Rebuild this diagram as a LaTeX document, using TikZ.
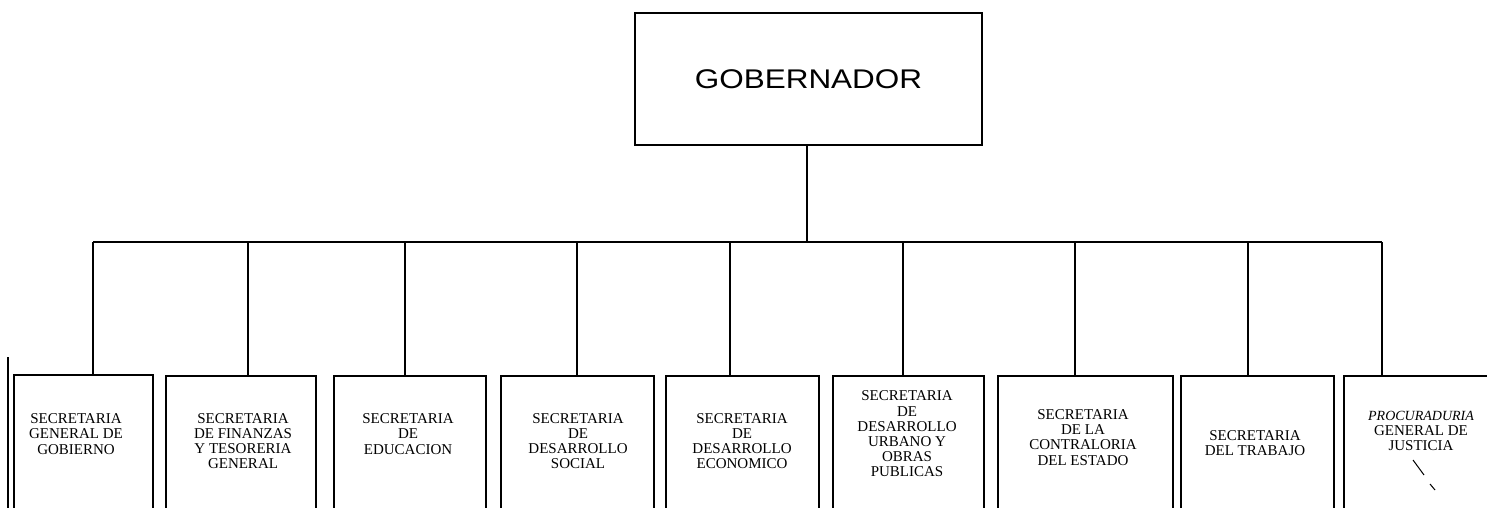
\documentclass[tikz,border=0pt]{standalone}
\usepackage{fontspec}
\setmainfont{Liberation Serif}
\newfontfamily\arialf{Liberation Sans}
\begin{document}
\begin{tikzpicture}[x=0.5pt,y=-0.5pt,
  ln/.style={line width=0.9pt,black},
  topbox/.style={draw,line width=0.9pt,inner sep=0pt,minimum width=173.5pt,minimum height=66pt},
  subbox/.style={draw,line width=0.9pt,inner sep=0pt,anchor=north west},
  lbl/.style={align=center,inner sep=0pt,font=\fontsize{7.5}{7.6}\selectfont},
]
\clip (0,0) rectangle (1487,508);
\fill[white] (0,0) rectangle (1487,508);
% governor
\node[topbox,font=\arialf\fontsize{13.5}{15}\selectfont] (gob) at (808.5,79) {\scalebox{1.165}[1]{GOBERNADOR}};
\coordinate (bj) at (807,242);
\coordinate (bl) at (93,242);
\coordinate (br) at (1382,242);
\draw[ln] (gob.south -| bj) -- (bj);
\draw[ln] (bl) -- (br);
% boxes
\node[subbox,minimum width=69.5pt,minimum height=72pt] (b1) at (13,374) {};
\node[subbox,minimum width=75pt,minimum height=72pt] (b2) at (165,375) {};
\node[subbox,minimum width=76pt,minimum height=72pt] (b3) at (333,375) {};
\node[subbox,minimum width=76.5pt,minimum height=72pt] (b4) at (500,375) {};
\node[subbox,minimum width=76.5pt,minimum height=72pt] (b5) at (665,375) {};
\node[subbox,minimum width=75.5pt,minimum height=72pt] (b6) at (832,375) {};
\node[subbox,minimum width=87.5pt,minimum height=72pt] (b7) at (997,375) {};
\node[subbox,minimum width=76.5pt,minimum height=72pt] (b8) at (1180,375) {};
\node[subbox,minimum width=90pt,minimum height=72pt] (b9) at (1343,375) {};
% connectors
\foreach \i/\x in {1/93,2/248,3/405,4/577,5/730,6/903,7/1075,8/1248,9/1382}{
  \coordinate (c\i) at (\x,242);
  \draw[ln] (c\i) -- (c\i |- b\i.north);
}
% labels
\node[lbl] (t1) at (76,434) {SECRETARIA\\GENERAL DE\\GOBIERNO};
\node[lbl] (t2) at (243,441) {SECRETARIA\\DE FINANZAS\\Y TESORERIA\\GENERAL};
\node[lbl] (t3) at (408,434) {SECRETARIA\\DE\\EDUCACION};
\node[lbl] (t4) at (578,441) {SECRETARIA\\DE\\DESARROLLO\\SOCIAL};
\node[lbl] (t5) at (742,441) {SECRETARIA\\DE\\DESARROLLO\\ECONOMICO};
\node[lbl] (t6) at (907,434) {SECRETARIA\\DE\\DESARROLLO\\URBANO Y\\OBRAS\\PUBLICAS};
\node[lbl] (t7) at (1083,437.5) {SECRETARIA\\DE LA\\CONTRALORIA\\DEL ESTADO};
\node[lbl] (t8) at (1255,443) {SECRETARIA\\DEL TRABAJO};
\node[lbl] (t9) at (1421,431) {{\itshape\fontsize{7}{7.6}\selectfont PROCURADURIA}\\GENERAL DE\\JUSTICIA};
% scan marks
\draw[line width=1.4pt] (8,357) -- (8,510);
\draw[line width=0.5pt] (1413,460) -- (1424,475);
\draw[line width=0.5pt] (1430,484) -- (1435,490);
\end{tikzpicture}
\end{document}
